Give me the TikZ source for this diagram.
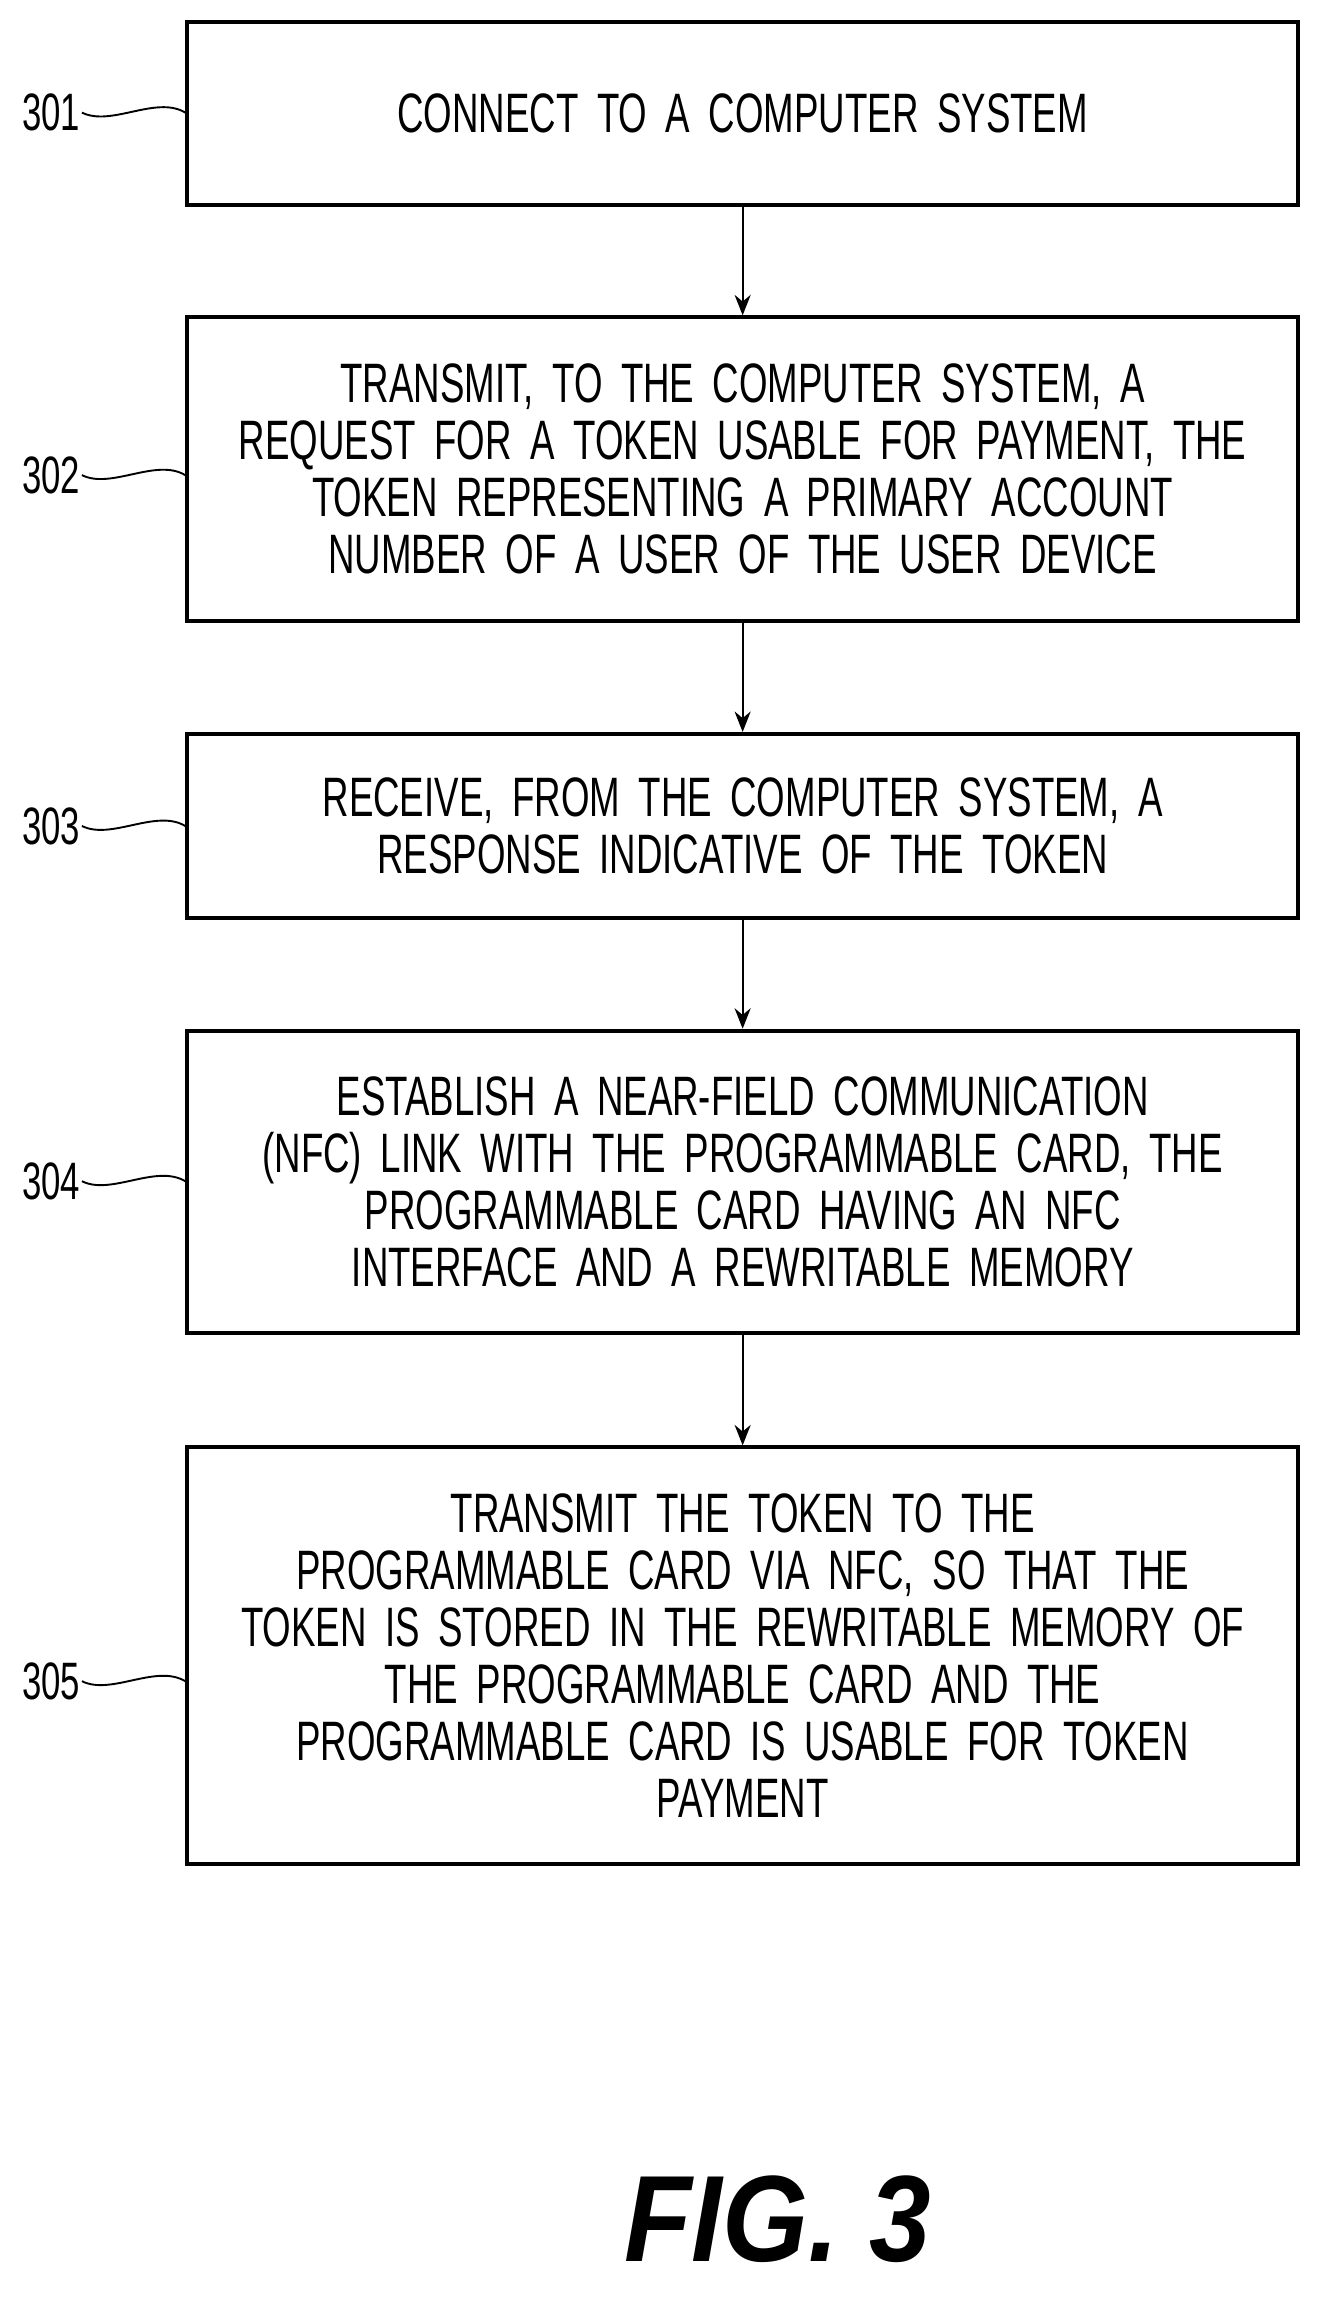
\documentclass[tikz,border=0pt]{standalone}
\usetikzlibrary{arrows.meta}
\usepackage{fontspec}
\setmainfont{Liberation Sans}[FakeStretch=0.66]
\newfontfamily\figfont{Liberation Sans}[FakeStretch=0.9]
\begin{document}
\begin{tikzpicture}[x=1pt,y=-1pt,
  box/.style={draw,line width=2.6pt,minimum width=760pt,align=center,inner sep=0pt,
    font=\fontsize{38}{39}\selectfont,text width=740pt},
  lab/.style={font=\fontsize{36}{36}\selectfont},
  arr/.style={line width=1.4pt,-{Stealth[length=14pt,width=11pt]}}]
\useasboundingbox (0,0) rectangle (907,1574);
\node[box,minimum height=125pt] (b1) at (508,77.5) {CONNECT TO A COMPUTER SYSTEM};
\node[box,minimum height=208pt] (b2) at (508,321) {TRANSMIT, TO THE COMPUTER SYSTEM, A\\REQUEST FOR A TOKEN USABLE FOR PAYMENT, THE\\TOKEN REPRESENTING A PRIMARY ACCOUNT\\NUMBER OF A USER OF THE USER DEVICE};
\node[box,minimum height=126pt] (b3) at (508,565) {RECEIVE, FROM THE COMPUTER SYSTEM, A\\RESPONSE INDICATIVE OF THE TOKEN};
\node[box,minimum height=207pt] (b4) at (508,808.5) {ESTABLISH A NEAR-FIELD COMMUNICATION\\(NFC) LINK WITH THE PROGRAMMABLE CARD, THE\\PROGRAMMABLE CARD HAVING AN NFC\\INTERFACE AND A REWRITABLE MEMORY};
\node[box,minimum height=285pt] (b5) at (508,1132.5) {TRANSMIT THE TOKEN TO THE\\PROGRAMMABLE CARD VIA NFC, SO THAT THE\\TOKEN IS STORED IN THE REWRITABLE MEMORY OF\\THE PROGRAMMABLE CARD AND THE\\PROGRAMMABLE CARD IS USABLE FOR TOKEN\\PAYMENT};
\draw[arr] (b1) -- (b2);
\draw[arr] (b2) -- (b3);
\draw[arr] (b3) -- (b4);
\draw[arr] (b4) -- (b5);
\foreach \n/\y/\b in {301/77/b1,302/325/b2,303/565/b3,304/808/b4,305/1150/b5}{
  \node[lab,inner sep=1pt] (l\n) at (35,\y) {\n};
  \coordinate (c\n) at (\b.west |- 0,\y);
  \draw[line width=1.3pt] (l\n.east) .. controls +(20,10) and +(-20,-12) .. (c\n);
}
\node[font=\figfont\bfseries\itshape\fontsize{84}{84}\selectfont] (fig) at (532,1518) {FIG. 3};
\end{tikzpicture}
\end{document}
